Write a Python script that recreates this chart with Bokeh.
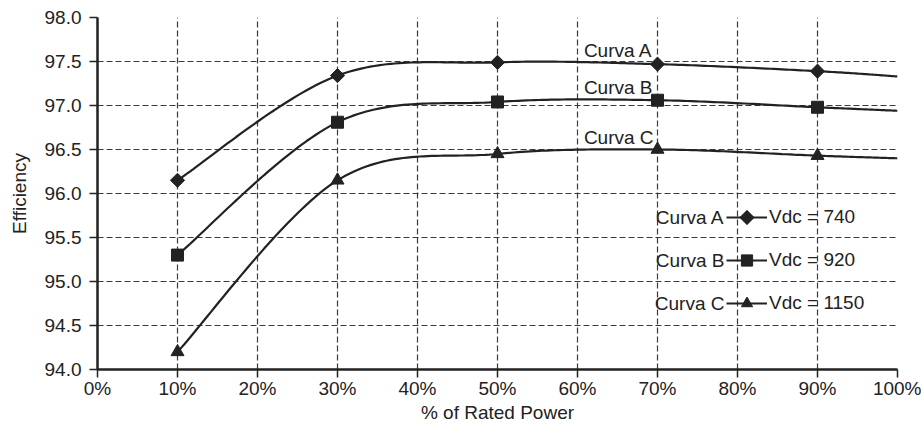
import numpy as np
from bokeh.plotting import figure
from bokeh.models import (FixedTicker, PrintfTickFormatter, NumeralTickFormatter,
                          Legend, LegendItem, Label, Range1d, PolyAnnotation)
from bokeh.embed import file_html
from bokeh.resources import INLINE

# ---- data ----
x_pct = [10, 30, 50, 70, 90, 100]
curva_a = [96.15, 97.34, 97.49, 97.47, 97.39, 97.33]
curva_b = [95.30, 96.81, 97.04, 97.06, 96.98, 96.94]
curva_c = [94.20, 96.15, 96.45, 96.50, 96.43, 96.40]
marker_count = 5  # markers drawn at 10..90 %
series_names = ["Curva A", "Curva B", "Curva C"]
legend_labels = ["Vdc = 740", "Vdc = 920", "Vdc = 1150"]
x_ticks = [0, 10, 20, 30, 40, 50, 60, 70, 80, 90, 100]
y_ticks = [94.0, 94.5, 95.0, 95.5, 96.0, 96.5, 97.0, 97.5, 98.0]

FONT = "Liberation Sans"
INK = "#222222"
FS = "19px"


def smooth(xs, ys, n=40):
    """Excel-like smoothed line: cubic Bezier segments, control points at 1/6."""
    P = np.column_stack([xs, ys]).astype(float)
    m = len(P)
    out = []
    for i in range(m - 1):
        p0, p3 = P[i], P[i + 1]
        pm = P[i - 1] if i > 0 else P[i]
        pp = P[i + 2] if i + 2 < m else P[i + 1]
        c1 = p0 + (p3 - pm) / 6.0
        c2 = p3 - (pp - p0) / 6.0
        t = np.linspace(0, 1, n)[:, None]
        seg = ((1 - t) ** 3) * p0 + 3 * ((1 - t) ** 2) * t * c1 + 3 * (1 - t) * t ** 2 * c2 + t ** 3 * p3
        out.append(seg if i == 0 else seg[1:])
    pts = np.vstack(out)
    return pts[:, 0], pts[:, 1]


p = figure(width=921, height=432, output_backend="svg", toolbar_location=None,
           x_range=Range1d(0, 100), y_range=Range1d(94, 98),
           min_border_left=97, min_border_right=24, min_border_top=17, min_border_bottom=63)
p.outline_line_color = None
p.background_fill_color = "white"

for ax in (p.xaxis[0], p.yaxis[0]):
    ax.axis_line_width = 2.5
    ax.axis_line_color = INK
    ax.major_tick_line_color = INK
    ax.major_tick_line_width = 1.5
    ax.major_tick_out = 8
    ax.major_tick_in = 0
    ax.minor_tick_line_color = None
    ax.major_label_text_font = FONT
    ax.major_label_text_font_size = FS
    ax.major_label_text_color = INK
    ax.axis_label_text_font = FONT
    ax.axis_label_text_font_size = FS
    ax.axis_label_text_font_style = "normal"
    ax.axis_label_text_color = INK

p.xaxis[0].ticker = FixedTicker(ticks=x_ticks)
p.xaxis[0].formatter = PrintfTickFormatter(format="%d%%")
p.xaxis[0].axis_label = "% of Rated Power"
p.xaxis[0].major_label_standoff = 0
p.xaxis[0].axis_label_standoff = 0
p.yaxis[0].ticker = FixedTicker(ticks=y_ticks)
p.yaxis[0].formatter = NumeralTickFormatter(format="0.0")
p.yaxis[0].axis_label = "Efficiency"
p.yaxis[0].major_label_standoff = 8
p.yaxis[0].axis_label_standoff = 12

for g in (p.xgrid[0], p.ygrid[0]):
    g.grid_line_color = "#3a3a3a"
    g.grid_line_dash = "6 3"
    g.grid_line_width = 1.2

markers = [dict(marker="square", size=10, angle=np.pi / 4),
           dict(marker="square", size=12, angle=0),
           dict(marker="triangle", size=13, angle=0)]
series = [curva_a, curva_b, curva_c]
items = []
for k, (ys, mk, lab) in enumerate(zip(series, markers, legend_labels)):
    sx, sy = smooth(x_pct, ys)
    lr = p.line(sx, sy, line_color=INK, line_width=2.2)
    mr = p.scatter(x_pct[:marker_count], ys[:marker_count], marker=mk["marker"],
                   size=mk["size"], angle=mk["angle"], fill_color=INK, line_color=INK)
    # legend ignores marker angle -> the diamond sample is drawn separately below
    items.append(LegendItem(label=lab, renderers=[lr] if k == 0 else [lr, mr]))

GH = 28
SP = 15
GW = 41
LEG_X, LEG_Y = 629, 52
legend = Legend(items=items, location=(LEG_X, LEG_Y), orientation="vertical",
                padding=0, margin=0, spacing=SP, glyph_width=GW, glyph_height=GH,
                label_height=GH, label_standoff=2,
                label_text_font=FONT, label_text_font_size=FS, label_text_color=INK,
                border_line_color=None, background_fill_alpha=0)
p.add_layout(legend)

# diamond sample for the first legend row (screen units, relative to frame)
cx = LEG_X + GW / 2
cy = LEG_Y + (GH + SP) * 2 + GH / 2
d = 7.5
p.add_layout(PolyAnnotation(xs=[cx - d, cx, cx + d, cx], ys=[cy, cy + d, cy, cy - d],
                            xs_units="screen", ys_units="screen",
                            fill_color=INK, fill_alpha=1.0, line_color=INK, line_width=1))

# "Curva X" text before each legend glyph (screen units, relative to frame)
for i, name in enumerate(series_names):
    p.add_layout(Label(x=LEG_X - 2, y=LEG_Y + (GH + SP) * (2 - i) + GH / 2,
                       x_units="screen", y_units="screen",
                       text=name, text_align="right", text_baseline="middle",
                       text_font=FONT, text_font_size=FS, text_color=INK))

# curve labels next to the lines
curve_label_y = [97.625, 97.20, 96.64]
for name, yy in zip(series_names, curve_label_y):
    p.add_layout(Label(x=60.8, y=yy, text=name, text_align="left", text_baseline="middle",
                       text_font=FONT, text_font_size=FS, text_color=INK))

open("out.html", "w").write(file_html(p, INLINE))
